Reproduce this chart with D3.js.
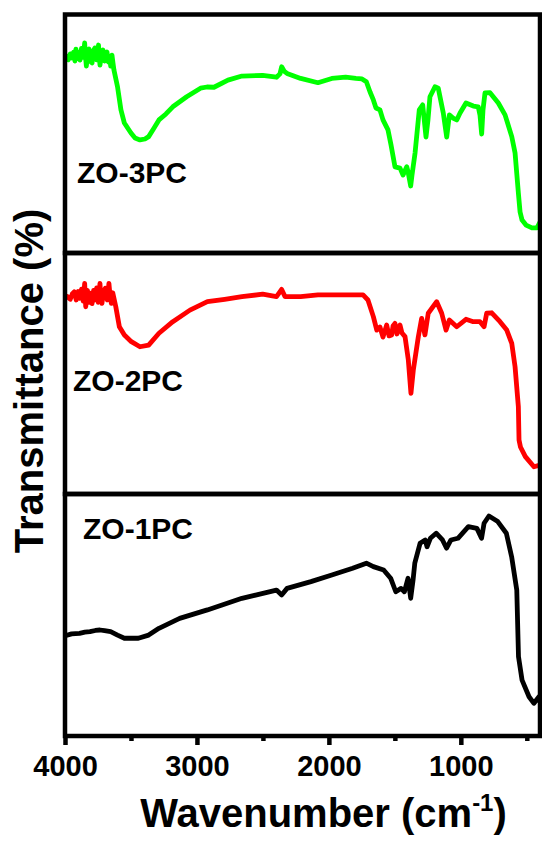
<!DOCTYPE html>
<html>
<head>
<meta charset="utf-8">
<script src="https://cdn.jsdelivr.net/npm/d3@7"></script>
<style>
  html, body { margin: 0; padding: 0; background: #fff; }
  svg { display: block; }
  text { font-family: "Liberation Sans", Arial, sans-serif; font-weight: bold; fill: #000; }
</style>
</head>
<body>
<svg id="chart" width="542" height="841"></svg>
<script>
// ---------- DATA ----------
const sampleNames = ["ZO-3PC", "ZO-2PC", "ZO-1PC"];
const sampleColors = ["#00ff00", "#ff0000", "#000000"];

const wnZO3 = [3992,3975,3960,3947,3935,3925,3917,3905,3895,3886,3875,3862,3851,3845,3838,3828,3818,3806,3795,3785,3773,3760,3746,3740,3735,3724,3712,3700,3690,3682,3670,3660,3654,3648,3644,3636,3629,3602,3576,3550,3500,3469,3432,3394,3366,3325,3288,3235,3183,3078,2973,2924,2871,2765,2659,2502,2397,2371,2358,2340,2317,2214,2083,1978,1873,1795,1749,1716,1688,1663,1643,1613,1590,1552,1529,1499,1461,1438,1410,1400,1380,1370,1347,1315,1289,1264,1249,1234,1196,1171,1133,1107,1087,1059,1031,1006,961,905,868,855,842,832,817,779,716,665,614,589,564,551,536,506,461,423,400];
const tZO3  = [82.6,81.0,83.5,81.8,84.2,80.5,85.5,81.5,84.0,80.9,85.8,82.0,88.1,82.5,78.4,84.0,85.5,80.2,79.7,84.8,86.0,81.0,87.2,82.5,78.8,83.0,85.1,80.5,83.8,84.3,80.0,82.5,78.4,81.5,83.0,79.5,76.7,69.7,60.0,54.5,50.3,48.2,47.4,47.8,48.8,52.4,55.8,58.3,61.3,65.5,69.1,69.6,69.5,72.5,74.2,74.5,73.7,75.1,78.1,76.3,75.3,73.2,71.4,73.2,73.7,73.2,73.0,71.8,67.5,64.2,60.8,60.0,55.8,51.6,45.3,36.1,35.6,32.7,36.2,34.0,28.1,32.7,41.9,60.0,62.1,48.6,55.8,65.5,69.7,69.1,58.7,48.6,57.9,56.6,55.8,58.7,62.9,61.6,61.3,57.9,49.9,60.0,67.1,67.2,62.9,57.9,48.8,41.9,25.2,17.2,13.8,11.7,10.5,10.5,13.0];

const wnZO2 = [3982,3960,3945,3930,3915,3900,3890,3875,3862,3851,3843,3830,3820,3811,3795,3783,3773,3760,3748,3735,3728,3720,3708,3694,3680,3667,3658,3649,3638,3615,3588,3550,3497,3432,3366,3288,3183,3053,2921,2790,2659,2502,2397,2358,2333,2214,2083,1873,1741,1704,1663,1637,1613,1590,1562,1544,1524,1514,1499,1484,1461,1446,1423,1398,1378,1360,1322,1297,1272,1247,1183,1145,1112,1087,1031,961,906,855,824,804,766,703,652,614,589,564,559,548,511,446,400];
const tZO2  = [81.9,80.8,83.0,83.9,80.5,84.0,81.2,85.0,80.0,87.4,77.7,84.5,79.5,83.3,79.0,84.5,80.5,85.5,79.5,87.4,81.0,79.1,84.0,85.4,80.5,87.4,82.0,79.1,83.5,77.7,69.4,66.0,63.2,61.1,61.8,66.7,71.5,76.3,79.8,80.8,81.9,82.9,81.9,84.9,81.9,81.9,82.6,82.6,82.6,80.5,73.6,68.0,69.3,65.1,70.1,65.6,66.0,69.7,70.8,66.4,70.1,66.8,65.3,55.6,41.8,51.5,65.3,72.9,66.0,75.0,79.8,75.0,68.0,72.2,69.4,72.5,71.5,71.5,69.4,75.0,75.2,71.5,68.0,62.5,52.8,36.2,22.4,19.5,15.5,11.3,12.0];

const wnZO1 = [3992,3950,3890,3850,3811,3770,3735,3700,3654,3602,3550,3444,3366,3288,3131,2921,2659,2397,2358,2317,2136,1978,1820,1716,1663,1585,1532,1493,1453,1428,1400,1380,1362,1349,1309,1270,1256,1231,1187,1139,1108,1075,1022,943,878,843,824,787,720,655,615,576,563,536,483,446,408,400];
const tZO1  = [41.5,42.2,42.4,42.9,43.1,43.6,43.8,43.5,43.1,41.7,40.4,40.4,41.7,44.5,48.6,52.1,56.9,60.3,58.3,61.0,63.8,66.5,69.3,71.4,70.0,68.6,65.2,59.6,61.0,59.6,65.2,56.9,64.5,71.4,79.6,81.0,78.2,81.7,83.8,81.0,77.6,81.0,81.7,86.5,85.8,81.7,87.9,90.9,88.6,83.8,74.1,60.3,32.8,23.1,16.2,13.5,16.2,14.0];

const majorTicks = [4000, 3000, 2000, 1000];
const minorTicks = [3500, 2500, 1500, 500];
const xTitle = "Wavenumber (cm";
const xTitleSup = "-1";
const yTitle = "Transmittance (%)";

// ---------- LAYOUT ----------
const svg = d3.select("#chart");
const plotLeft = 65, plotRight = 540;
const panelEdges = [14.5, 253, 494, 736];
const x = d3.scaleLinear().domain([4000, 400]).range([plotLeft, plotRight]);

const series = [
  { wn: wnZO3, t: tZO3 },
  { wn: wnZO2, t: tZO2 },
  { wn: wnZO1, t: tZO1 }
];
const labelPos = [
  { dx: 12, baseline: 183 },
  { dx: 8, baseline: 391 },
  { dx: 18, baseline: 539 }
];

series.forEach((s, i) => {
  const top = panelEdges[i], bottom = panelEdges[i + 1];
  const y = d3.scaleLinear().domain([0, 100]).range([bottom, top]);
  const pts = s.wn.map((w, k) => [w, s.t[k]]);
  const line = d3.line().x(d => x(d[0])).y(d => y(d[1]));
  svg.append("path")
    .datum(pts)
    .attr("d", line)
    .attr("fill", "none")
    .attr("stroke", sampleColors[i])
    .attr("stroke-width", 4.8)
    .attr("stroke-linejoin", "round")
    .attr("stroke-linecap", "round");
  svg.append("text")
    .attr("x", plotLeft + labelPos[i].dx)
    .attr("y", labelPos[i].baseline)
    .attr("font-size", 30)
    .text(sampleNames[i]);
});

// frames
for (let i = 0; i < 3; i++) {
  svg.append("rect")
    .attr("x", plotLeft)
    .attr("y", panelEdges[i])
    .attr("width", plotRight - plotLeft)
    .attr("height", panelEdges[i + 1] - panelEdges[i])
    .attr("fill", "none")
    .attr("stroke", "#000")
    .attr("stroke-width", 4.5);
}

// x axis
const bottomY = panelEdges[3];
const majorAxis = d3.axisBottom(x).tickValues(majorTicks).tickSize(9).tickPadding(10).tickFormat(d3.format("d"));
const gMaj = svg.append("g").attr("transform", `translate(0,${bottomY})`).call(majorAxis);
gMaj.select(".domain").remove();
gMaj.selectAll(".tick line").attr("stroke", "#000").attr("stroke-width", 4.5);
gMaj.selectAll(".tick text")
  .attr("font-size", 29)
  .attr("font-family", "Liberation Sans, Arial, sans-serif")
  .attr("font-weight", "bold")
  .attr("fill", "#000");

const minorAxis = d3.axisBottom(x).tickValues(minorTicks).tickSize(5).tickFormat("");
const gMin = svg.append("g").attr("transform", `translate(0,${bottomY})`).call(minorAxis);
gMin.select(".domain").remove();
gMin.selectAll(".tick line").attr("stroke", "#000").attr("stroke-width", 4.5);

// x title
const xt = svg.append("text")
  .attr("x", (142 + 505) / 2)
  .attr("y", 827)
  .attr("text-anchor", "middle")
  .attr("font-size", 40);
xt.append("tspan").text(xTitle);
xt.append("tspan").attr("font-size", 24).attr("dy", -16).text(xTitleSup);
xt.append("tspan").attr("dy", 16).text(")");

// y title
svg.append("text")
  .attr("transform", "translate(43,381) rotate(-90)")
  .attr("text-anchor", "middle")
  .attr("font-size", 40)
  .text(yTitle);
</script>
</body>
</html>
